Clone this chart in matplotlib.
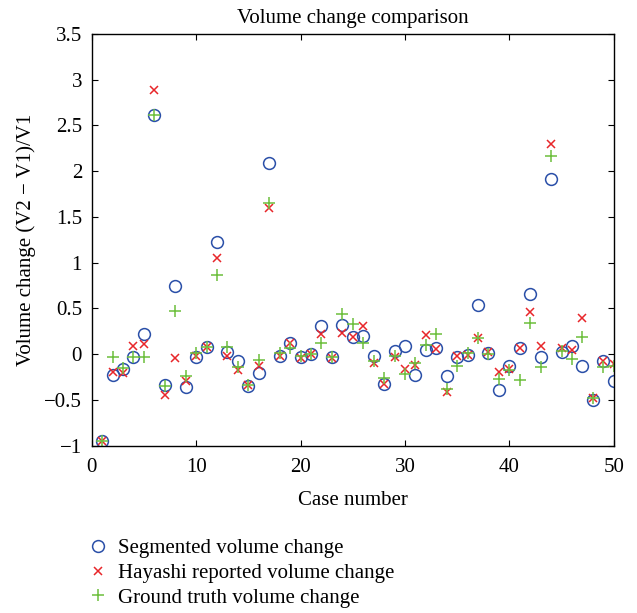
import numpy as np
import matplotlib
matplotlib.use("Agg")
import matplotlib.pyplot as plt

plt.rcParams["font.family"] = ["Liberation Serif", "DejaVu Serif"]

case = np.arange(1, 51)

segmented = [
    -0.95, -0.225, -0.163, -0.033, 0.218, 2.614, -0.334, 0.741, -0.356, -0.033,
    0.083, 1.231, 0.022, -0.076, -0.349, -0.207, 2.086, -0.018, 0.12, -0.033,
    0.004, 0.309, -0.033, 0.323, 0.185, 0.2, -0.018, -0.323, 0.033, 0.087,
    -0.225, 0.051, 0.073, -0.236, -0.029, -0.007, 0.537, 0.018, -0.389, -0.131,
    0.065, 0.657, -0.033, 1.914, 0.029, 0.091, -0.127, -0.497, -0.073, -0.298,
]
hayashi = [
    -0.95, -0.19, -0.207, 0.087, 0.109, 2.89, -0.443, -0.044, -0.298, -0.025,
    0.083, 1.053, -0.022, -0.178, -0.334, -0.134, 1.598, -0.018, 0.12, -0.044,
    0.004, 0.218, -0.04, 0.236, 0.185, 0.309, -0.091, -0.323, -0.033, -0.16,
    -0.12, 0.21, 0.054, -0.418, -0.015, -0.007, 0.174, 0.029, -0.196, -0.167,
    0.073, 0.458, 0.087, 2.302, 0.069, 0.051, 0.396, -0.479, -0.08, -0.105,
]
ground_truth = [
    -0.95, -0.036, -0.153, -0.033, -0.036, 2.62, -0.349, 0.468, -0.243, 0.018,
    0.083, 0.864, 0.08, -0.142, -0.334, -0.062, 1.652, 0.011, 0.065, -0.015,
    0.004, 0.12, -0.033, 0.439, 0.33, 0.12, -0.08, -0.261, -0.025, -0.214,
    -0.10, 0.105, 0.221, -0.381, -0.127, 0.011, 0.174, 0.0, -0.269, -0.178,
    -0.287, 0.345, -0.142, 2.164, 0.04, -0.051, 0.192, -0.479, -0.142, -0.131,
]

x_ticks = [0, 10, 20, 30, 40, 50]
y_ticks = [-1, -0.5, 0, 0.5, 1, 1.5, 2, 2.5, 3, 3.5]
y_tick_labels = ["\u22121", "\u22120.5", "0", "0.5", "1", "1.5", "2", "2.5", "3", "3.5"]

fig = plt.figure(figsize=(6.37, 6.13), dpi=100)
ax = fig.add_axes([0.144, 0.273, 0.8195, 0.6715])

h1, = ax.plot(case, segmented, "o", mfc="none", mec="#2a4fa8", ms=8.5, mew=1.1,
              label="Segmented volume change")
h2, = ax.plot(case, hayashi, "x", color="#e8262a", ms=5.5, mew=1.1,
              label="Hayashi reported volume change")
h3, = ax.plot(case, ground_truth, "+", color="#6cbf3c", ms=8, mew=1.1,
              label="Ground truth volume change")

ax.set_xlim(0, 50)
ax.set_ylim(-1, 3.5)
ax.set_xticks(x_ticks)
ax.set_yticks(y_ticks)
ax.set_yticklabels(y_tick_labels)
ax.tick_params(direction="in", top=True, right=True, labelsize=15, length=4)
ax.tick_params(axis="y", pad=7)
ax.tick_params(axis="x", pad=9)
for s in ax.spines.values():
    s.set_linewidth(1.0)

ax.set_title("Volume change comparison", fontsize=15, pad=8)
ax.set_xlabel("Case number", fontsize=15, labelpad=10)
ax.set_ylabel("Volume change (V2 \u2212 V1)/V1", fontsize=15, labelpad=6)

# legend sits below the axes, no frame
fig.legend(handles=[h1, h2, h3], loc="upper left", bbox_to_anchor=(0.125, 0.135),
           frameon=False, fontsize=15, handlelength=1.0, handletextpad=0.45,
           labelspacing=0.25, borderaxespad=0)

fig.savefig("out.png", dpi=100)
